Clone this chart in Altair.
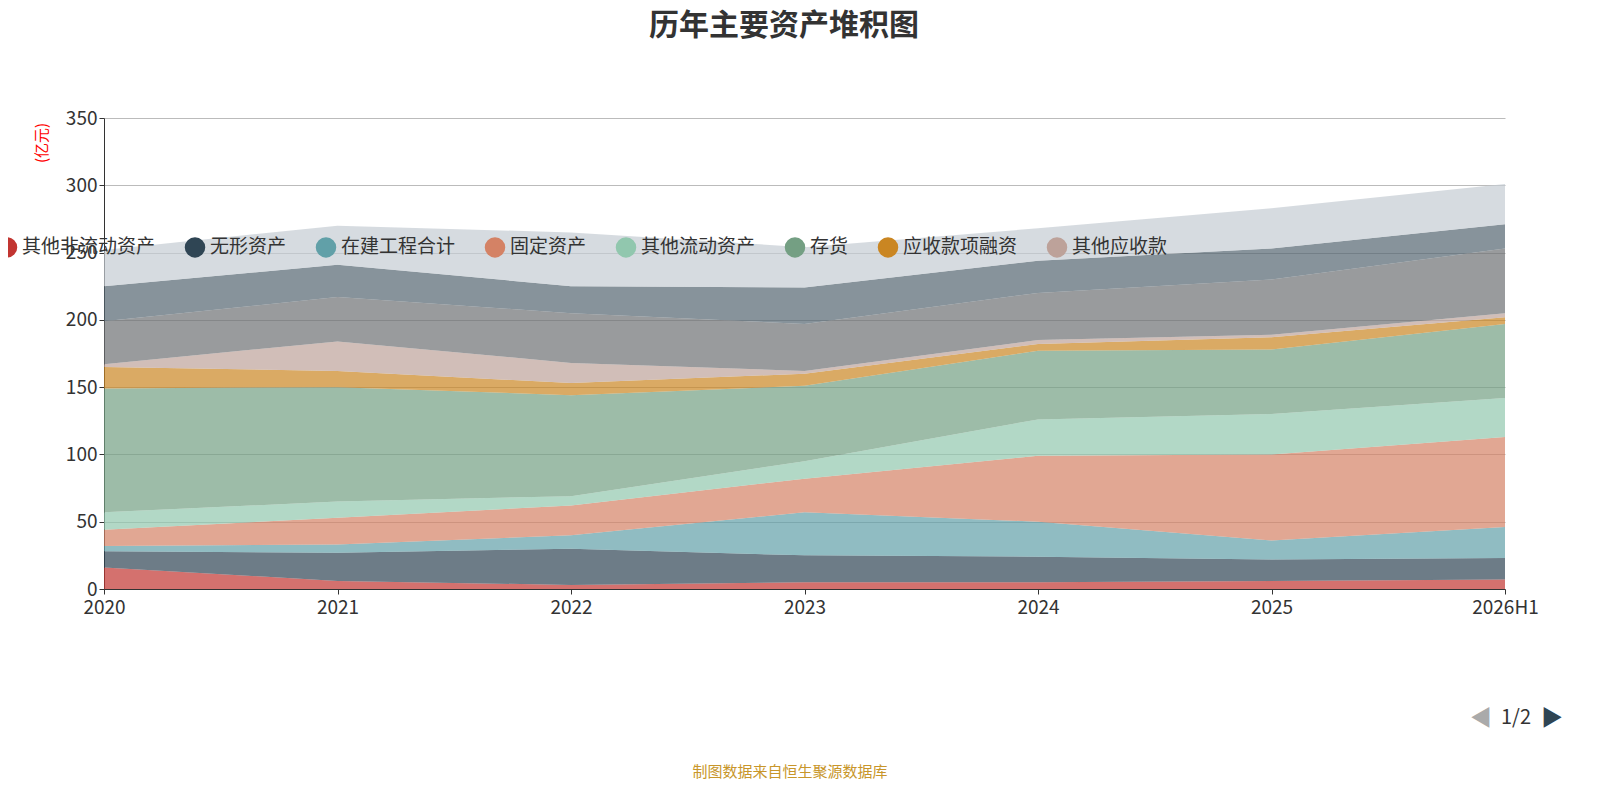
import altair as alt
import pandas as pd

years = ["2020", "2021", "2022", "2023", "2024", "2025", "2026H1"]
series = ["其他非流动资产", "无形资产", "在建工程合计", "固定资产", "其他流动资产", "存货",
          "应收款项融资", "其他应收款", "应收账款", "交易性金融资产", "货币资金"]
colors = ["#c23531", "#2f4554", "#61a0a8", "#d48265", "#91c7ae", "#749f83",
          "#ca8622", "#bda29a", "#6e7074", "#546570", "#c4ccd3"]

# values per series (亿元), bottom to top
values = [
    [16, 6, 3, 5, 5, 6, 7],
    [12, 21, 27, 20, 19, 16, 16],
    [4, 6, 10, 32, 26, 14, 23],
    [12, 20, 22, 25, 49, 64, 67],
    [13, 12, 7, 13, 27, 30, 29],
    [92, 85, 75, 56, 51, 48, 55],
    [16, 12, 9, 9, 5, 9, 5],
    [2, 22, 15, 2, 3, 2, 3],
    [32, 33, 37, 35, 35, 41, 48],
    [26, 24, 20, 27, 24, 23, 18],
    [27, 29, 40, 30, 24, 30, 30],
]

rows = []
for i, (name, vals) in enumerate(zip(series, values)):
    for y, v in zip(years, vals):
        rows.append({"year": y, "series": name, "value": v, "idx": i})
df = pd.DataFrame(rows)

font = "Noto Sans CJK SC"

area = alt.Chart(df).mark_area(opacity=0.7).encode(
    x=alt.X("year:O", scale=alt.Scale(type="point", padding=0), title=None,
            axis=alt.Axis(labelAngle=0, labelFontSize=19, labelColor="#333", labelPadding=4,
                          domainColor="#333", tickColor="#333", grid=False)),
    y=alt.Y("value:Q", stack="zero", scale=alt.Scale(domain=[0, 350]), title=None,
            axis=alt.Axis(values=list(range(0, 351, 50)), labelFontSize=19, labelColor="#333",
                          domainColor="#333", tickColor="#333", gridColor="#bbb", domain=True)),
    color=alt.Color("series:N", sort=series,
                    scale=alt.Scale(domain=series, range=colors),
                    legend=alt.Legend(values=series[:8], orient="none", legendX=-108, legendY=118,
                                      direction="horizontal", title=None, symbolType="circle",
                                      symbolSize=420, symbolOpacity=1, labelFontSize=19,
                                      labelColor="#333", columnPadding=28, labelFont=font,
                                      labelLimit=40 * 19)),
    order=alt.Order("idx:Q"),
)

def txt(s, x, y, size, color, weight="normal", angle=0):
    return alt.Chart(pd.DataFrame({"t": [s]})).mark_text(
        fontSize=size, color=color, fontWeight=weight, font=font, angle=angle
    ).encode(text="t:N", x=alt.value(x), y=alt.value(y))

chart = alt.layer(
    area,
    txt("历年主要资产堆积图", 680, -92, 30, "#333", "bold"),
    txt("(亿元)", -62, 25, 15, "red", angle=270),
    txt("制图数据来自恒生聚源数据库", 686, 654, 15, "#c8962a"),
    txt("◀", 1377, 600, 22, "#aaa"),
    txt("1/2", 1412, 600, 20, "#333"),
    txt("▶", 1448, 600, 22, "#2f4554"),
).properties(
    width=1401, height=471, autosize="none",
    padding={"left": 96, "top": 110, "right": 78, "bottom": 190},
).configure_view(stroke=None).configure_axis(labelFont=font)

chart.save("out.html", embed_options={"renderer": "svg", "actions": False})
